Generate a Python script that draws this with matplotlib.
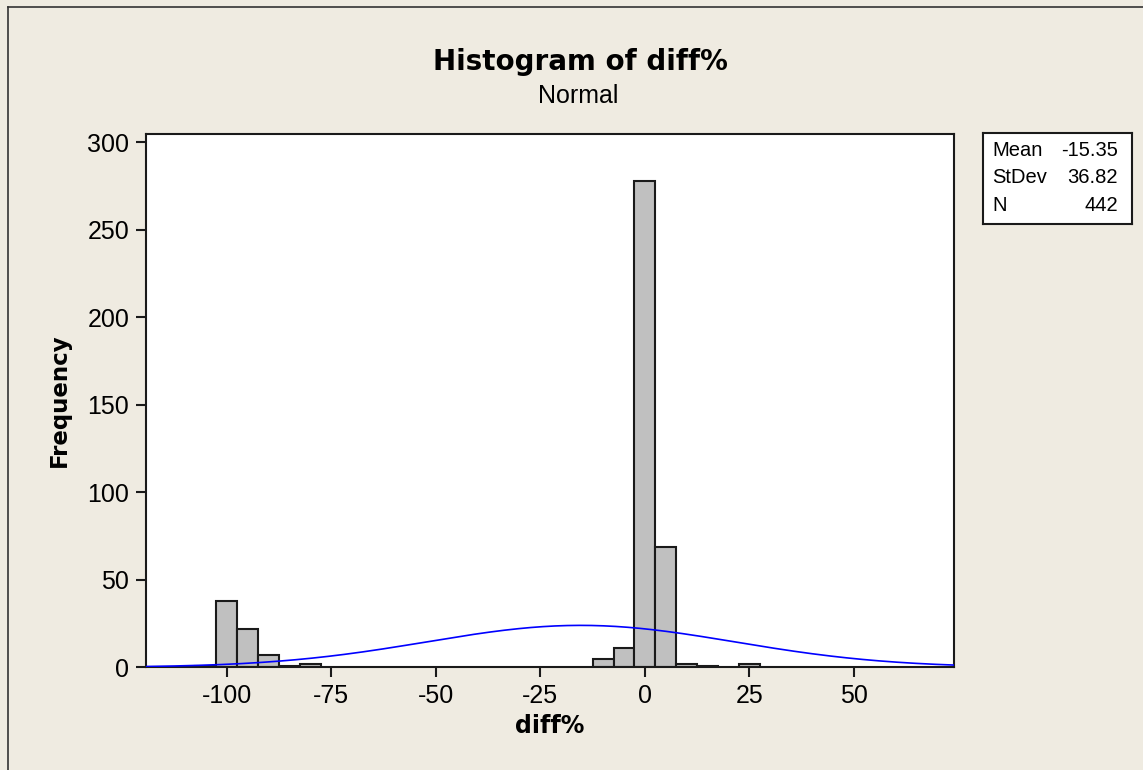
import numpy as np
import matplotlib
matplotlib.use('Agg')
import matplotlib.pyplot as plt
from matplotlib.lines import Line2D

plt.rcParams['axes.unicode_minus'] = False

# 直方图数据 (bin centers, counts), bin width 5
bin_centers = [-105, -100, -95, -90, -85, -80, -10, -5, 0, 5, 10, 15, 25]
counts = [1, 38, 22, 7, 1, 2, 5, 11, 278, 69, 2, 1, 2]
bin_width = 5

# summary shown in the box
mean = -15.35
stdev = 36.82
n = 442
stat_names = ['Mean', 'StDev', 'N']
stat_values = ['-15.35', '36.82', '442']

x_ticks = [-100, -75, -50, -25, 0, 25, 50]
y_ticks = [0, 50, 100, 150, 200, 250, 300]

bg = '#efebe1'
reg = 'Liberation Sans'
bold = 'DejaVu Sans'

fig = plt.figure(figsize=(11.43, 7.7), dpi=100, facecolor=bg)
ax = fig.add_axes([0.1277, 0.1334, 0.7069, 0.6932])
ax.set_facecolor('white')

ax.bar(bin_centers, counts, width=bin_width, color='#c0c0c0', edgecolor='#1a1a1a', linewidth=1.5, zorder=2)

# fitted normal curve
xs = np.linspace(-119.3, 73.9, 400)
ys = n * bin_width * np.exp(-0.5 * ((xs - mean) / stdev) ** 2) / (stdev * np.sqrt(2 * np.pi))
ax.plot(xs, ys, color='#0000ff', linewidth=1.2, zorder=3)

ax.set_xlim(-119.3, 73.9)
ax.set_ylim(0, 305)
ax.set_xticks(x_ticks)
ax.set_yticks(y_ticks)
ax.tick_params(direction='out', length=7, width=1.5, colors='#1a1a1a', labelsize=18, pad=5)
ax.tick_params(axis='x', pad=5)
for lab in ax.get_xticklabels() + ax.get_yticklabels():
    lab.set_fontfamily(reg)
    lab.set_color('black')
for s in ax.spines.values():
    s.set_linewidth(1.5)
    s.set_color('#1a1a1a')

ax.set_xlabel('diff%', fontsize=17, fontweight='bold', family=bold, labelpad=4)
ax.set_ylabel('Frequency', fontsize=16.5, fontweight='bold', family=bold, labelpad=12)

fig.text(0.5075, 0.92, 'Histogram of diff%', ha='center', va='center', fontsize=20, fontweight='bold', family=bold)
fig.text(0.506, 0.875, 'Normal', ha='center', va='center', fontsize=18, family=reg)

# legend box with stats
box = fig.add_axes([0.8597, 0.7087, 0.1309, 0.1182])
box.set_facecolor('white')
box.set_xticks([])
box.set_yticks([])
for s in box.spines.values():
    s.set_linewidth(1.5)
    s.set_color('#1a1a1a')
for i, (name, val) in enumerate(zip(stat_names, stat_values)):
    yy = 0.816 - i * 0.302
    box.text(0.062, yy, name, ha='left', va='center', fontsize=14.5, family=reg, transform=box.transAxes)
    box.text(0.906, yy, val, ha='right', va='center', fontsize=14.5, family=reg, transform=box.transAxes)

# outer frame, only left and top edge visible
fig.add_artist(Line2D([8 / 1143, 8 / 1143], [0, 1 - 7 / 770], color='#333333', linewidth=1.2, transform=fig.transFigure))
fig.add_artist(Line2D([8 / 1143, 1], [1 - 7 / 770, 1 - 7 / 770], color='#333333', linewidth=1.2, transform=fig.transFigure))

plt.savefig('out.png', dpi=100, facecolor=bg)
